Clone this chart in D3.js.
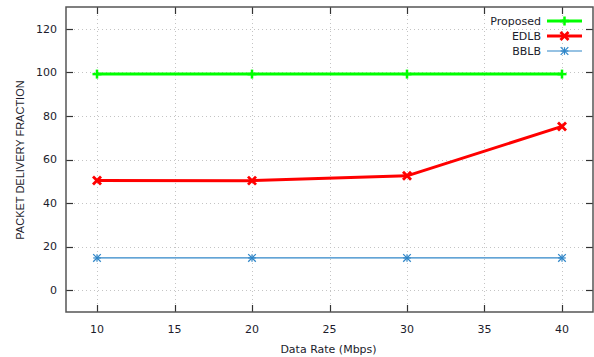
<!DOCTYPE html>
<html>
<head>
<meta charset="utf-8">
<script src="https://cdn.jsdelivr.net/npm/d3@7"></script>
<style>
  body { margin: 0; background: #fff; }
  svg text { font-family: "DejaVu Sans", Verdana, sans-serif; fill: #1c1c2c; }
</style>
</head>
<body>
<svg id="chart" width="594" height="357"></svg>
<script>
// data
const dataRates = [10, 20, 30, 40];
const proposed = [99.2, 99.2, 99.2, 99.2];
const edlb = [50.4, 50.3, 52.5, 75.2];
const bblb = [14.8, 14.8, 14.8, 14.8];
const xTicks = [10, 15, 20, 25, 30, 35, 40];
const yTicks = [0, 20, 40, 60, 80, 100, 120];

const series = [
  { name: "Proposed", values: proposed, color: "#00ff00", width: 3, marker: "plus", size: 4.5, mw: 2.5 },
  { name: "EDLB", values: edlb, color: "#ff0000", width: 3, marker: "cross", size: 4, mw: 2.8 },
  { name: "BBLB", values: bblb, color: "#2f86c8", width: 1.2, marker: "star", size: 3.8, mw: 1.2 }
];

const svg = d3.select("#chart");
const pL = 66, pR = 593, pT = 7, pB = 312;

const x = d3.scaleLinear().domain([8, 42]).range([pL, pR]);
const y = d3.scaleLinear().domain([-10, 130]).range([pB, pT]);

// grid
const grid = svg.append("g").attr("stroke", "#c4c4c4").attr("stroke-width", 1)
  .attr("stroke-dasharray", "1,3");
grid.selectAll("line.gx").data(xTicks).enter().append("line")
  .attr("x1", d => Math.round(x(d)) + 0.5).attr("x2", d => Math.round(x(d)) + 0.5)
  .attr("y1", pT).attr("y2", pB);
grid.selectAll("line.gy").data(yTicks).enter().append("line")
  .attr("y1", d => Math.round(y(d)) + 0.5).attr("y2", d => Math.round(y(d)) + 0.5)
  .attr("x1", pL).attr("x2", pR);

// tick marks, inward on all four sides
const tk = svg.append("g").attr("stroke", "#333").attr("stroke-width", 1.2);
yTicks.forEach(d => {
  const yy = Math.round(y(d)) + 0.5;
  tk.append("line").attr("x1", pL).attr("x2", pL + 7).attr("y1", yy).attr("y2", yy);
  tk.append("line").attr("x1", pR).attr("x2", pR - 7).attr("y1", yy).attr("y2", yy);
});
xTicks.forEach(d => {
  const xx = Math.round(x(d)) + 0.5;
  tk.append("line").attr("y1", pB).attr("y2", pB - 7).attr("x1", xx).attr("x2", xx);
  tk.append("line").attr("y1", pT).attr("y2", pT + 7).attr("x1", xx).attr("x2", xx);
});

// frame
svg.append("rect").attr("x", pL).attr("y", pT)
  .attr("width", pR - pL).attr("height", pB - pT)
  .attr("fill", "none").attr("stroke", "#555").attr("stroke-width", 1.5);

// tick labels
svg.append("g").selectAll("text").data(yTicks).enter().append("text")
  .attr("x", pL - 9).attr("y", d => y(d)).attr("dy", "0.35em")
  .attr("text-anchor", "end").attr("font-size", 11).text(d => d);
svg.append("g").selectAll("text").data(xTicks).enter().append("text")
  .attr("x", d => x(d)).attr("y", 333)
  .attr("text-anchor", "middle").attr("font-size", 11).text(d => d);

// axis titles
svg.append("text").attr("x", (pL + pR) / 2 - 1).attr("y", 353)
  .attr("text-anchor", "middle").attr("font-size", 11).text("Data Rate (Mbps)");
svg.append("text").attr("transform", "translate(24,160) rotate(-90)")
  .attr("text-anchor", "middle").attr("font-size", 11)
  .style("font-family", "'Liberation Sans', Arial, sans-serif")
  .text("PACKET DELIVERY FRACTION");

function drawMarker(g, kind, cx, cy, s, color, w) {
  const lines = [];
  if (kind === "plus" || kind === "star") lines.push([cx - s, cy, cx + s, cy], [cx, cy - s, cx, cy + s]);
  if (kind === "cross" || kind === "star") lines.push([cx - s, cy - s, cx + s, cy + s], [cx - s, cy + s, cx + s, cy - s]);
  lines.forEach(l => g.append("line").attr("x1", l[0]).attr("y1", l[1]).attr("x2", l[2]).attr("y2", l[3])
    .attr("stroke", color).attr("stroke-width", w));
}

const line = d3.line().x(d => x(d[0])).y(d => y(d[1]));
series.forEach(s => {
  const pts = dataRates.map((r, i) => [r, s.values[i]]);
  const g = svg.append("g");
  g.append("path").datum(pts).attr("d", line).attr("fill", "none")
    .attr("stroke", s.color).attr("stroke-width", s.width).attr("stroke-linejoin", "round");
  pts.forEach(p => drawMarker(g, s.marker, x(p[0]), y(p[1]), s.size, s.color, s.mw));
});

// legend
const lg = svg.append("g");
series.forEach((s, i) => {
  const ly = 21 + i * 15;
  lg.append("text").attr("x", 541).attr("y", ly).attr("dy", "0.35em")
    .attr("text-anchor", "end").attr("font-size", 11).text(s.name);
  lg.append("line").attr("x1", 547).attr("x2", 582).attr("y1", ly).attr("y2", ly)
    .attr("stroke", s.color).attr("stroke-width", s.width);
  drawMarker(lg, s.marker, 564.5, ly, s.size, s.color, s.mw);
});
</script>
</body>
</html>
